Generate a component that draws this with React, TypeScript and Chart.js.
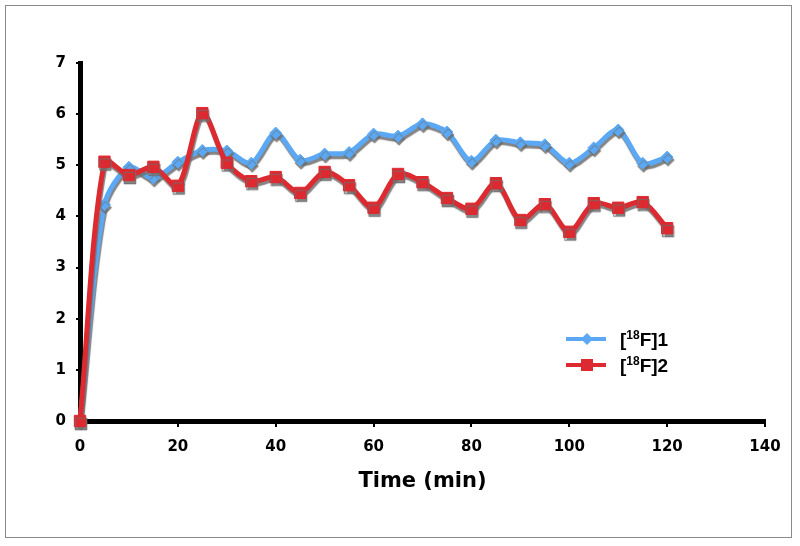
import React, { useEffect, useRef } from "react";
import { Chart, registerables } from "chart.js";

Chart.register(...registerables);

const times = [0, 5, 10, 15, 20, 25, 30, 35, 40, 45, 50, 55, 60, 65, 70, 75, 80, 85, 90, 95, 100, 105, 110, 115, 120];
const series1Label = "[18F]1";
const series2Label = "[18F]2";
const series1 = [0, 4.23, 4.96, 4.75, 5.06, 5.29, 5.28, 5.04, 5.63, 5.1, 5.22, 5.25, 5.61, 5.57, 5.81, 5.65, 5.08, 5.49, 5.44, 5.4, 5.04, 5.34, 5.69, 5.04, 5.16];
const series2 = [0, 5.07, 4.81, 4.97, 4.6, 6.02, 5.05, 4.69, 4.77, 4.46, 4.87, 4.61, 4.17, 4.83, 4.67, 4.36, 4.15, 4.65, 3.93, 4.24, 3.7, 4.26, 4.17, 4.28, 3.77];
const xTickMin = 0;
const xTickMax = 140;
const xTickStep = 20;
const yTickMin = 0;
const yTickMax = 7;
const yTickStep = 1;

const BLUE = "#5ba9f4";
const RED = "#dc2a30";

const shadowPlugin = {
  id: "lineShadow",
  beforeDatasetDraw(chart: any) {
    const ctx = chart.ctx;
    ctx.save();
    ctx.shadowColor = "rgba(110,110,110,0.85)";
    ctx.shadowOffsetX = 1;
    ctx.shadowOffsetY = 3;
    ctx.shadowBlur = 1;
  },
  afterDatasetDraw(chart: any) {
    chart.ctx.restore();
  },
};

const legendPlugin = {
  id: "customLegend",
  afterDraw(chart: any) {
    const ctx = chart.ctx;
    const items = [
      { label: series1Label, color: BLUE, style: "rectRot", y: 339, r: 6 },
      { label: series2Label, color: RED, style: "rect", y: 365, r: 8 },
    ];
    ctx.save();
    items.forEach((it) => {
      ctx.strokeStyle = it.color;
      ctx.lineWidth = 4;
      ctx.beginPath();
      ctx.moveTo(566, it.y);
      ctx.lineTo(606, it.y);
      ctx.stroke();
      ctx.fillStyle = it.color;
      ctx.beginPath();
      if (it.style === "rect") {
        ctx.rect(587 - 6, it.y - 6, 12, 12);
      } else {
        ctx.moveTo(587, it.y - it.r);
        ctx.lineTo(587 + it.r, it.y);
        ctx.lineTo(587, it.y + it.r);
        ctx.lineTo(587 - it.r, it.y);
        ctx.closePath();
      }
      ctx.fill();
      const m = it.label.match(/^\[(\d+)(.*)$/);
      const big = "bold 19px 'Liberation Sans', Arial, sans-serif";
      const small = "bold 12px 'Liberation Sans', Arial, sans-serif";
      ctx.fillStyle = "#000";
      ctx.textBaseline = "alphabetic";
      let x = 620;
      const base = it.y + 7;
      if (m) {
        ctx.font = big;
        ctx.fillText("[", x, base);
        x += ctx.measureText("[").width;
        ctx.font = small;
        ctx.fillText(m[1], x, base - 7);
        x += ctx.measureText(m[1]).width;
        ctx.font = big;
        ctx.fillText(m[2], x, base);
      } else {
        ctx.font = big;
        ctx.fillText(it.label, x, base);
      }
    });
    ctx.restore();
  },
};

export default function App() {
  const ref = useRef<HTMLCanvasElement | null>(null);
  useEffect(() => {
    if (!ref.current) return;
    const tickFont = { family: "'DejaVu Sans', Verdana, sans-serif", weight: "bold" as const, size: 15 };
    const chart = new Chart(ref.current, {
      type: "line",
      data: {
        datasets: [
          {
            label: series1Label,
            data: times.map((t, i) => ({ x: t, y: series1[i] })),
            borderColor: BLUE,
            backgroundColor: BLUE,
            borderWidth: 5,
            pointStyle: "rectRot",
            pointRadius: 6,
            pointBorderWidth: 1,
            tension: 0.3,
            clip: false as any,
            order: 1,
          },
          {
            label: series2Label,
            data: times.map((t, i) => ({ x: t, y: series2[i] })),
            borderColor: RED,
            backgroundColor: RED,
            borderWidth: 5,
            pointStyle: "rect",
            pointRadius: 8,
            pointBorderWidth: 1,
            tension: 0.3,
            clip: false as any,
            order: 0,
          },
        ],
      },
      options: {
        responsive: false,
        animation: false,
        layout: { padding: { top: 63, right: 35, bottom: 48, left: 0 } },
        plugins: { legend: { display: false }, tooltip: { enabled: false } },
        scales: {
          x: {
            type: "linear",
            min: xTickMin,
            max: xTickMax,
            ticks: { stepSize: xTickStep, font: tickFont, color: "#000", padding: 11 },
            grid: { drawOnChartArea: false, color: "#000", lineWidth: 2, tickLength: 6 },
            border: { display: true, color: "#000", width: 5 },
            title: {
              display: true,
              text: "Time (min)",
              color: "#000",
              font: { family: "'DejaVu Sans', Verdana, sans-serif", weight: "bold", size: 21 },
              padding: { top: 4, bottom: 4 },
            },
            afterFit: (s: any) => {
              s.height = 77;
            },
          },
          y: {
            type: "linear",
            min: yTickMin,
            max: yTickMax,
            ticks: { stepSize: yTickStep, font: tickFont, color: "#000", padding: 10 },
            grid: { drawOnChartArea: false, color: "#000", lineWidth: 2, tickLength: 4 },
            border: { display: true, color: "#000", width: 5 },
            afterFit: (s: any) => {
              s.width = 80;
            },
          },
        },
      },
      plugins: [shadowPlugin, legendPlugin],
    });
    return () => chart.destroy();
  }, []);
  return (
    <div style={{ position: "fixed", left: 0, top: 0, width: 800, height: 546, background: "#fff" }}>
      <div
        style={{
          position: "absolute",
          left: 5,
          top: 5,
          width: 787,
          height: 533,
          border: "1px solid #8a8a8a",
          boxSizing: "border-box",
        }}
      />
      <canvas ref={ref} width={800} height={546} style={{ position: "absolute", left: 0, top: 0 }} />
    </div>
  );
}
